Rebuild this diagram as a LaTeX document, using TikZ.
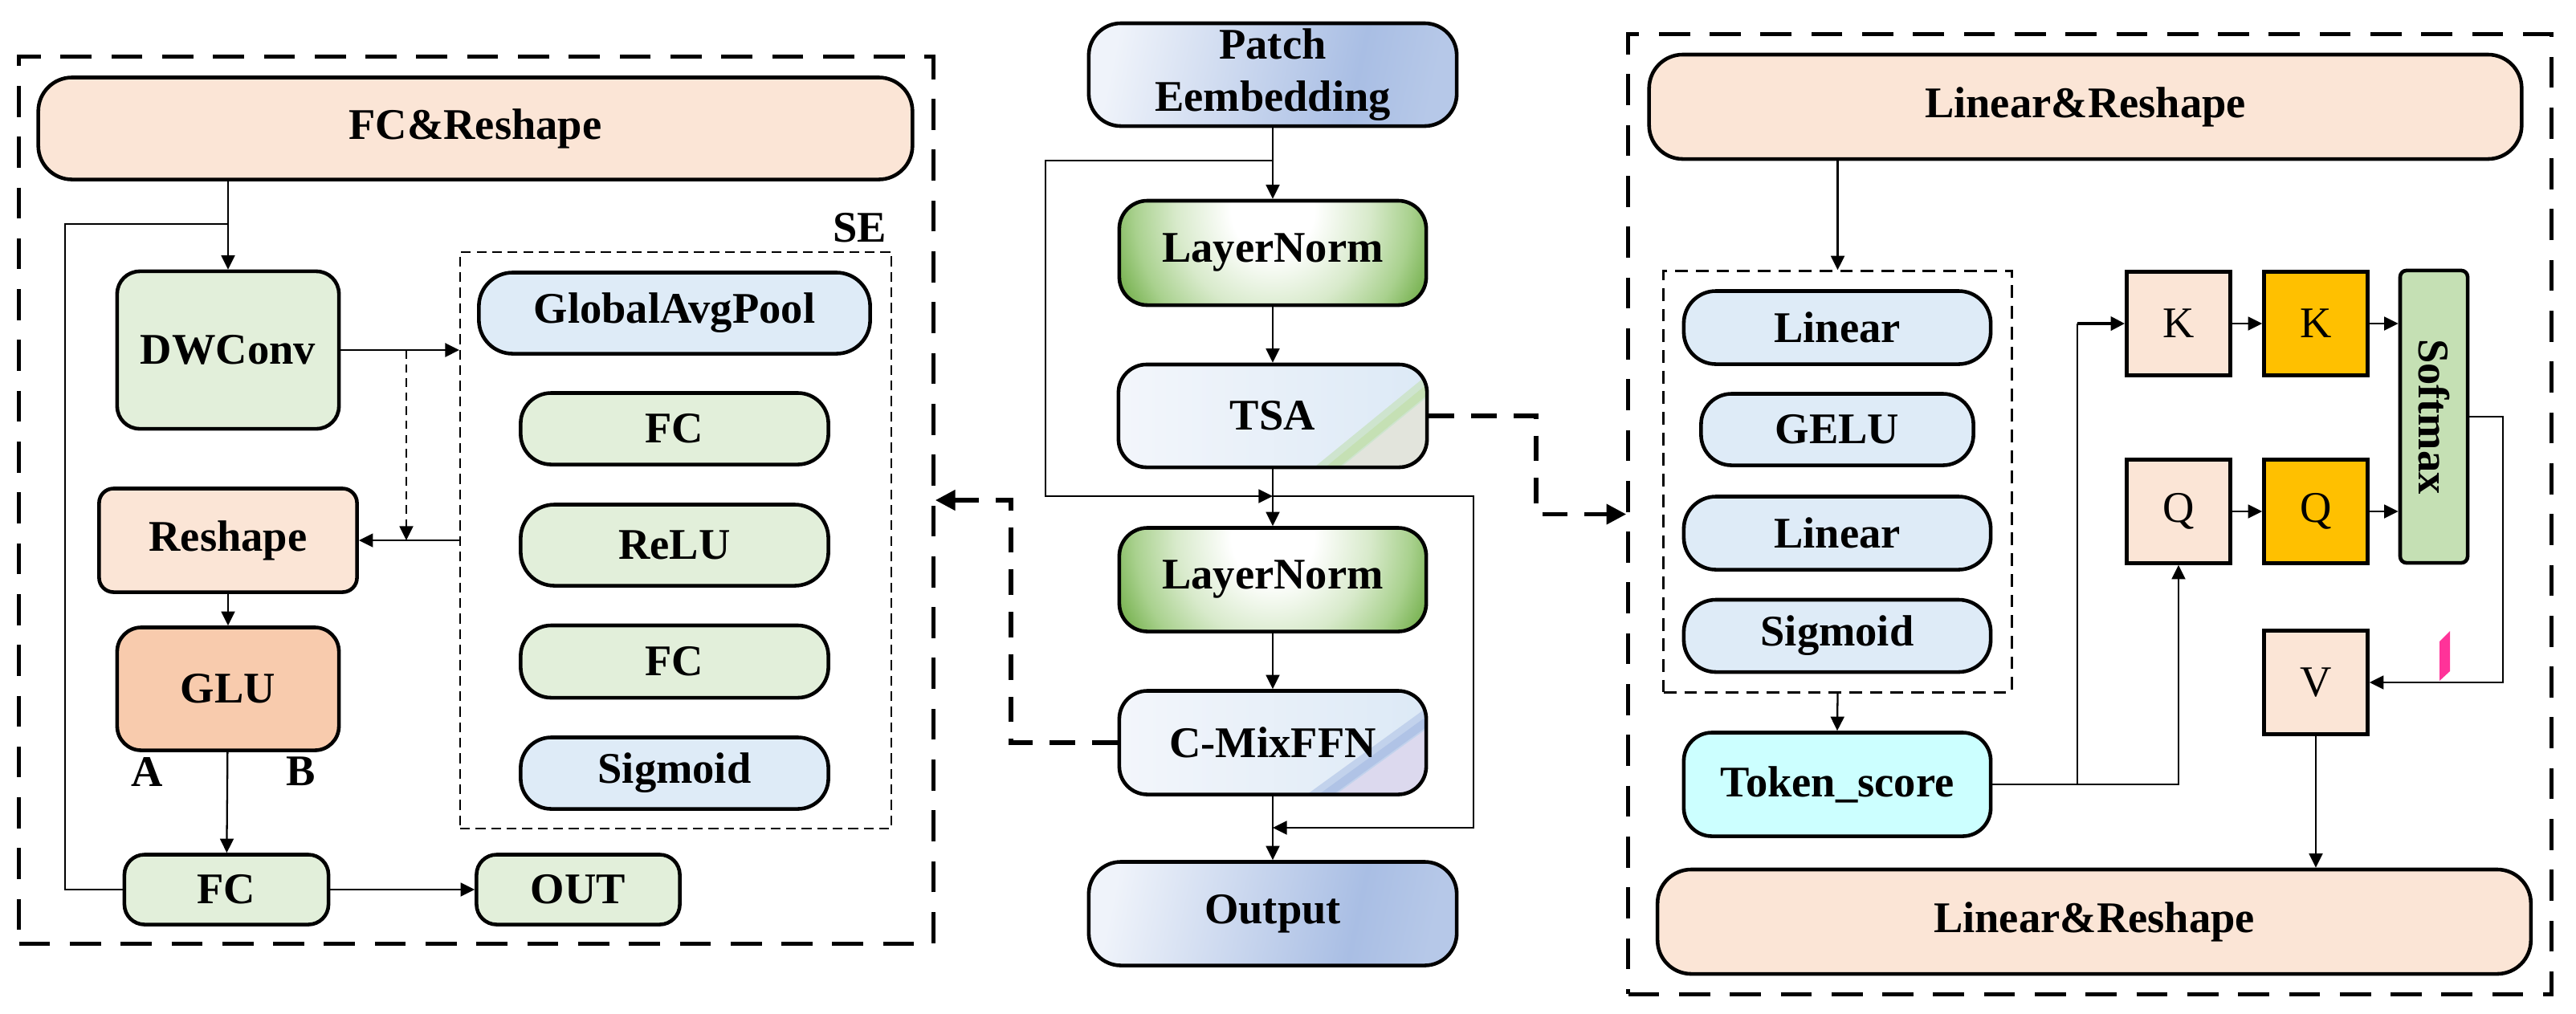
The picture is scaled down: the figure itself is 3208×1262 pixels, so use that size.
\documentclass[tikz,border=0pt]{standalone}
\usepackage{fontspec}
\setmainfont{Liberation Serif}
\usetikzlibrary{arrows.meta,calc}
\definecolor{peach}{HTML}{FBE5D6}
\definecolor{lgreen}{HTML}{E2EFDA}
\definecolor{lblue}{HTML}{DEEBF7}
\definecolor{gluc}{HTML}{F8CBAD}
\definecolor{cyanc}{HTML}{CCFFFF}
\definecolor{goldc}{HTML}{FFC000}
\definecolor{smxc}{HTML}{C5E0B4}
\definecolor{pinkc}{HTML}{FF3399}
\definecolor{peA}{HTML}{EFF3FA}
\definecolor{peB}{HTML}{A9BEE4}
\definecolor{peC}{HTML}{B6C8E8}
\definecolor{lnA}{HTML}{70AD47}
\definecolor{lnB}{HTML}{A9D18E}
\definecolor{lnL}{HTML}{D8EACB}
\definecolor{tsA}{HTML}{F3F6FB}
\definecolor{tsB}{HTML}{DCE9F6}
\definecolor{tsG}{HTML}{C5E0B4}
\definecolor{tsE}{HTML}{E2E4DC}
\definecolor{cmG}{HTML}{B0C3E6}
\definecolor{cmE}{HTML}{DCD9EE}
\pgfdeclarehorizontalshading{peshade}{100bp}{color(0bp)=(peA); color(25bp)=(peA); color(63bp)=(peB); color(75bp)=(peC); color(100bp)=(peC)}
\pgfdeclareradialshading{lnrad}{\pgfpointorigin}{color(0bp)=(white); color(6bp)=(white); color(14bp)=(lnL); color(20bp)=(lnB); color(25bp)=(lnA); color(50bp)=(lnA)}
\newcommand{\fs}{\fontsize{15.5}{18.5}\selectfont}
\tikzset{
  blk/.style={draw, line width=1.3pt, inner sep=0pt, align=center, font=\bfseries\fs},
  sq/.style={draw, line width=1.3pt, inner sep=0pt, font=\fs, minimum width=1.29cm, minimum height=1.29cm},
  lbl/.style={inner sep=0pt, font=\bfseries\fs},
  arr/.style={line width=0.65pt, -{Triangle[length=5pt,width=4.8pt]}},
  ln/.style={line width=0.65pt},
  tdash/.style={line width=1.5pt, dash pattern=on 9pt off 6pt, -{Triangle[length=7pt,width=7pt]}},
  outframe/.style={draw, line width=1.45pt, dash pattern=on 11pt off 7pt, inner sep=0pt},
  lnfill/.style={fill=lnA, path picture={\shade[shading=lnrad] ($(path picture bounding box.north)+(0,12)$) ellipse [x radius=215, y radius=230];}},
  tsafill/.style={left color=tsA, right color=tsB, path picture={
      \coordinate (pse) at (path picture bounding box.south east);
      \fill[tsE] ($(pse)+(-131,14)$) -- ($(pse)+(17,-107)$) -- ($(pse)+(17,14)$) -- cycle;
      \draw[line width=6pt, tsG!60!tsB] ($(pse)+(-136,10)$) -- ($(pse)+(12,-111)$);
      \draw[line width=3pt, tsG] ($(pse)+(-133,12)$) -- ($(pse)+(15,-109)$);}},
  cmfill/.style={left color=tsA, right color=tsB, path picture={
      \coordinate (pse) at (path picture bounding box.south east);
      \fill[cmE] ($(pse)+(-138,13)$) -- ($(pse)+(18,-100)$) -- ($(pse)+(18,13)$) -- cycle;
      \draw[line width=6pt, cmG!60!tsB] ($(pse)+(-143,9)$) -- ($(pse)+(13,-104)$);
      \draw[line width=3pt, cmG] ($(pse)+(-140,11)$) -- ($(pse)+(16,-102)$);}},
}
\begin{document}
\begin{tikzpicture}[x=0.01cm,y=-0.01cm]
\useasboundingbox (0,0) rectangle (3208,1262);
% frames
\node[outframe, minimum width=11.38cm, minimum height=11.04cm] (lframe) at (593,623) {};
\node[outframe, minimum width=11.49cm, minimum height=11.95cm] (rframe) at (2602.5,640.5) {};
\node[draw, line width=0.5pt, dash pattern=on 3.5pt off 2pt, inner sep=0pt, minimum width=5.37cm, minimum height=7.18cm] (se) at (841.5,673) {};
\node[draw, line width=0.9pt, dash pattern=on 4.5pt off 2.8pt, inner sep=0pt, minimum width=4.33cm, minimum height=5.24cm] (inbox) at (2288.5,600) {};
% left block
\node[blk, fill=peach, rounded corners=0.42cm, minimum width=10.88cm, minimum height=1.27cm] (fcr) at (592,160) {FC\&Reshape};
\node[blk, fill=lgreen, rounded corners=0.28cm, minimum width=2.76cm, minimum height=1.96cm] (dw) at (284,436) {DWConv};
\node[blk, fill=lblue, rounded corners=0.42cm, minimum width=4.87cm, minimum height=1.01cm] (gap) at (840,390) {GlobalAvgPool};
\node[blk, fill=lgreen, rounded corners=0.38cm, minimum width=3.83cm, minimum height=0.89cm] (sfc1) at (840,534) {FC};
\node[blk, fill=lgreen, rounded corners=0.42cm, minimum width=3.83cm, minimum height=1.01cm] (relu) at (840,679) {ReLU};
\node[blk, fill=lgreen, rounded corners=0.38cm, minimum width=3.83cm, minimum height=0.90cm] (sfc2) at (840,824) {FC};
\node[blk, fill=lblue, rounded corners=0.38cm, minimum width=3.83cm, minimum height=0.89cm] (sig1) at (840,963) {Sigmoid};
\node[lbl] (selab) at (1071,284) {SE};
\node[blk, fill=peach, rounded corners=0.18cm, minimum width=3.21cm, minimum height=1.29cm] (reshape) at (284,673) {Reshape};
\node[blk, fill=gluc, rounded corners=0.3cm, minimum width=2.76cm, minimum height=1.53cm] (glu) at (284,858) {GLU};
\node[lbl] (la) at (183,961) {A};
\node[lbl] (lb) at (375,961) {B};
\node[blk, fill=lgreen, rounded corners=0.25cm, minimum width=2.54cm, minimum height=0.87cm] (fc) at (282,1108) {FC};
\node[blk, fill=lgreen, rounded corners=0.25cm, minimum width=2.53cm, minimum height=0.87cm] (out) at (720,1108) {OUT};
% center block
\node[blk, shading=peshade, shading angle=-12, rounded corners=0.4cm, minimum width=4.58cm, minimum height=1.28cm] (pe) at (1585,93) {Patch\\Eembedding};
\node[blk, lnfill, rounded corners=0.35cm, minimum width=3.82cm, minimum height=1.30cm] (ln1) at (1585,315) {LayerNorm};
\node[blk, tsafill, rounded corners=0.35cm, minimum width=3.84cm, minimum height=1.28cm] (tsa) at (1585,518) {TSA};
\node[blk, lnfill, rounded corners=0.35cm, minimum width=3.82cm, minimum height=1.29cm] (ln2) at (1585,722) {LayerNorm};
\node[blk, cmfill, rounded corners=0.35cm, minimum width=3.82cm, minimum height=1.29cm] (cmix) at (1585,925) {C-MixFFN};
\node[blk, shading=peshade, shading angle=-12, rounded corners=0.4cm, minimum width=4.58cm, minimum height=1.29cm] (outp) at (1585,1138) {Output};
% right block
\node[blk, fill=peach, rounded corners=0.42cm, minimum width=10.86cm, minimum height=1.30cm] (lr1) at (2597,133) {Linear\&Reshape};
\node[blk, fill=lblue, rounded corners=0.4cm, minimum width=3.82cm, minimum height=0.91cm] (lin1) at (2288,408) {Linear};
\node[blk, fill=lblue, rounded corners=0.38cm, minimum width=3.39cm, minimum height=0.89cm] (gelu) at (2288,535) {GELU};
\node[blk, fill=lblue, rounded corners=0.4cm, minimum width=3.82cm, minimum height=0.91cm] (lin2) at (2288,664) {Linear};
\node[blk, fill=lblue, rounded corners=0.4cm, minimum width=3.82cm, minimum height=0.90cm] (sig2) at (2288,792) {Sigmoid};
\node[blk, fill=cyanc, rounded corners=0.35cm, minimum width=3.82cm, minimum height=1.29cm] (tok) at (2288,977) {Token\_score};
\node[sq, fill=peach] (k1) at (2713,403) {K};
\node[sq, fill=goldc] (k2) at (2884,403) {K};
\node[sq, fill=peach] (q1) at (2713,637) {Q};
\node[sq, fill=goldc] (q2) at (2884,637) {Q};
\node[sq, fill=peach] (v) at (2884,850) {V};
\node[draw, line width=1.3pt, fill=smxc, rounded corners=0.08cm, inner sep=0pt, minimum width=0.84cm, minimum height=3.64cm] (smx) at (3031,519) {};
\node[lbl, rotate=-90] (smxt) at (smx.center) {Softmax};
\node[blk, fill=peach, rounded corners=0.42cm, minimum width=10.87cm, minimum height=1.30cm] (lr2) at (2608,1148) {Linear\&Reshape};
\fill[pinkc] (3038,799) -- (3051,786) -- (3051,836) -- (3038,848) -- cycle;
% left connectors
\coordinate (j1) at (284,279);
\coordinate (j1l) at (81,279);
\draw[arr] (fcr.south -| dw.north) -- (dw.north);
\draw[ln] (j1) -- (j1l) |- (fc.west);
\draw[arr, line width=0.8pt] (dw.east) -- (se.west |- dw.east);
\coordinate (j2) at (506,436);
\coordinate (j3) at (506,673);
\draw[arr, dash pattern=on 3pt off 2pt] (j2) -- (j3);
\draw[arr] (se.west |- reshape.east) -- (reshape.east);
\draw[arr] (reshape) -- (glu);
\draw[arr] (glu) -- (fc);
\draw[arr] (fc) -- (out);
% center connectors
\coordinate (c1) at (1585,200);
\coordinate (c2) at (1302,200);
\coordinate (c3) at (1585,618);
\coordinate (c4) at (1835,618);
\coordinate (c5) at (1585,1031);
\draw[arr] (pe) -- (ln1);
\draw[arr] (c1) -- (c2) |- (c3);
\draw[arr] (ln1) -- (tsa);
\draw[arr] (tsa) -- (ln2);
\draw[arr] (c3) -- (c4) |- (c5);
\draw[arr] (ln2) -- (cmix);
\draw[arr] (cmix) -- (outp);
\coordinate (d1) at (1913,518);
\coordinate (d2) at (1259,925);
\draw[tdash] (tsa.east) -- (d1) |- (rframe.west);
\draw[tdash] (cmix.west) -- (d2) |- (lframe.east);
% right connectors
\draw[arr] (lr1.south -| inbox.north) -- (inbox.north);
\draw[arr] (inbox.south) -- (tok.north);
\draw[arr] (tok.east) -| (q1.south);
\coordinate (r1) at (2587,977);
\coordinate (r2) at (2587,403);
\draw[ln] (r1) -- (r2);
\draw[arr, line width=1.2pt] (r2) -- (k1.west);
\draw[arr] (k1) -- (k2);
\draw[arr] (k2.east) -- (smx.west |- k2.east);
\draw[arr] (q1) -- (q2);
\draw[arr] (q2.east) -- (smx.west |- q2.east);
\coordinate (r3) at (3117,519);
\draw[arr] (smx.east) -- (r3) |- (v.east);
\draw[arr] (v.south) -- (v.south |- lr2.north);
\end{tikzpicture}
\end{document}
